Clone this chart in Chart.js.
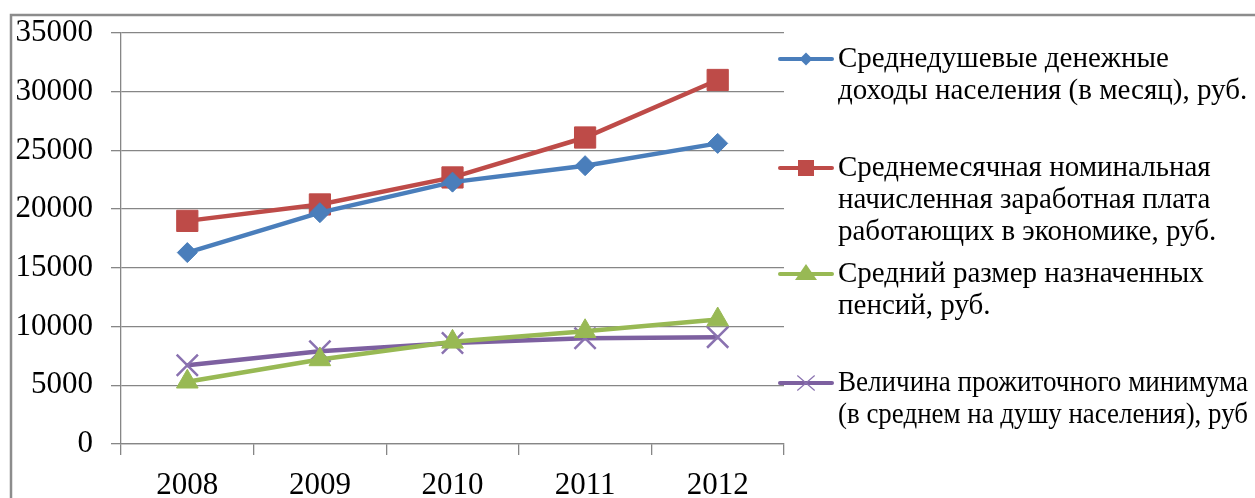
<!DOCTYPE html>
<html>
<head>
<meta charset="utf-8">
<script src="https://cdn.jsdelivr.net/npm/chart.js@4/dist/chart.umd.min.js"></script>
<style>
  body { margin: 0; background: #fff; }
  #wrap { width: 1255px; height: 498px; }
</style>
</head>
<body>
<div id="wrap"><canvas id="incomeChart" width="1255" height="498"></canvas></div>
<script>
// Data
const years = ['2008', '2009', '2010', '2011', '2012'];
const perCapitaIncome = [16300, 19700, 22300, 23700, 25600];
const avgWage = [19000, 20400, 22700, 26100, 31000];
const avgPension = [5300, 7200, 8700, 9600, 10600];
const subsistenceMin = [6700, 7900, 8600, 9000, 9100];
const yTicks = [0, 5000, 10000, 15000, 20000, 25000, 30000, 35000];

const legendLines = [
  ['Среднедушевые денежные', 'доходы населения (в месяц), руб.'],
  ['Среднемесячная номинальная', 'начисленная заработная плата', 'работающих в экономике, руб.'],
  ['Средний размер назначенных', 'пенсий, руб.'],
  ['Величина прожиточного минимума', '(в среднем на душу населения), руб']
];

const FONT = '"Liberation Serif", "Times New Roman", serif';
const GRID = '#868686';

// Frame around the chart (only top and left visible)
const framePlugin = {
  id: 'frame',
  beforeDraw(chart) {
    const c = chart.ctx;
    c.save();
    c.strokeStyle = '#8c8c8c';
    c.lineWidth = 2.5;
    c.beginPath();
    c.moveTo(11, 498);
    c.lineTo(11, 15);
    c.lineTo(1255, 15);
    c.stroke();
    c.restore();
  }
};

// Legend to the right, multi-line labels
const sideLegend = {
  id: 'sideLegend',
  afterDraw(chart) {
    const c = chart.ctx;
    const firstY = [59, 168, 274, 383];
    const lineH = 32;
    const markerSize = [6.5, 8, 11, 12];
    c.save();
    chart.data.datasets.forEach((ds, i) => {
      const y = firstY[i];
      c.strokeStyle = ds.borderColor;
      c.lineWidth = 4;
      c.lineCap = 'round';
      c.beginPath();
      c.moveTo(780, y);
      c.lineTo(832, y);
      c.stroke();
      c.fillStyle = ds.pointBackgroundColor;
      c.strokeStyle = ds.pointBorderColor;
      c.lineWidth = 1.2;
      drawMarker(c, ds.pointStyle, markerSize[i], 806, y);
      c.fillStyle = '#000';
      c.font = '29px ' + FONT;
      c.textBaseline = 'middle';
      c.textAlign = 'left';
      legendLines[i].forEach((t, k) => c.fillText(t, 838, y + k * lineH, 410));
    });
    c.restore();
  }
};

function drawMarker(c, style, r, x, y) {
  c.beginPath();
  if (style === 'rectRot') {
    c.moveTo(x, y - r); c.lineTo(x + r, y); c.lineTo(x, y + r); c.lineTo(x - r, y); c.closePath();
    c.fill();
  } else if (style === 'rect') {
    c.rect(x - r, y - r, 2 * r, 2 * r);
    c.fill();
  } else if (style === 'triangle') {
    const h = r * 0.9;
    c.moveTo(x, y - h); c.lineTo(x + r, y + h * 0.6); c.lineTo(x - r, y + h * 0.6); c.closePath();
    c.fill();
  } else if (style === 'crossRot') {
    c.moveTo(x - r * 0.7, y - r * 0.6); c.lineTo(x + r * 0.7, y + r * 0.6);
    c.moveTo(x + r * 0.7, y - r * 0.6); c.lineTo(x - r * 0.7, y + r * 0.6);
    c.stroke();
  }
}

function series(label, data, color, style, radius, ptColor) {
  return {
    label: label,
    data: data,
    borderColor: color,
    backgroundColor: color,
    borderWidth: 4.5,
    pointStyle: style,
    pointRadius: radius,
    pointBackgroundColor: ptColor || color,
    pointBorderColor: ptColor || color,
    pointBorderWidth: style === 'crossRot' ? 2.5 : 1,
    tension: 0
  };
}

const ctx = document.getElementById('incomeChart');
new Chart(ctx, {
  type: 'line',
  data: {
    labels: years,
    datasets: [
      series(legendLines[0].join(' '), perCapitaIncome, '#4A7EBB', 'rectRot', 10),
      series(legendLines[1].join(' '), avgWage, '#BE4B48', 'rect', 15),
      series(legendLines[2].join(' '), avgPension, '#98B954', 'triangle', 12.5),
      series(legendLines[3].join(' '), subsistenceMin, '#7D60A0', 'crossRot', 15, '#8a72b0')
    ]
  },
  options: {
    responsive: false,
    animation: false,
    layout: { padding: { top: 33, right: 471, left: 0, bottom: 0 } },
    plugins: {
      legend: { display: false },
      tooltip: { enabled: false }
    },
    scales: {
      x: {
        offset: true,
        grid: {
          offset: true,
          drawOnChartArea: false,
          drawTicks: true,
          tickLength: 11,
          color: GRID,
          lineWidth: 1.3
        },
        border: { color: GRID, width: 1.3 },
        ticks: { color: '#000', font: { family: FONT, size: 31 }, padding: 12 },
        afterFit(scale) {
          scale.height = 54;
          scale.paddingLeft = 0;
          scale.paddingRight = 0;
        }
      },
      y: {
        min: 0,
        max: 35000,
        afterBuildTicks(scale) { scale.ticks = yTicks.map(v => ({ value: v })); },
        grid: { color: GRID, lineWidth: 1.3, tickLength: 10 },
        border: { color: GRID, width: 1.3 },
        ticks: {
          color: '#000',
          font: { family: FONT, size: 31 },
          padding: 18,
          callback: v => String(v)
        },
        afterFit(scale) {
          scale.width = 121;
          scale.paddingTop = 0;
          scale.paddingBottom = 0;
        }
      }
    }
  },
  plugins: [framePlugin, sideLegend]
});
</script>
</body>
</html>
